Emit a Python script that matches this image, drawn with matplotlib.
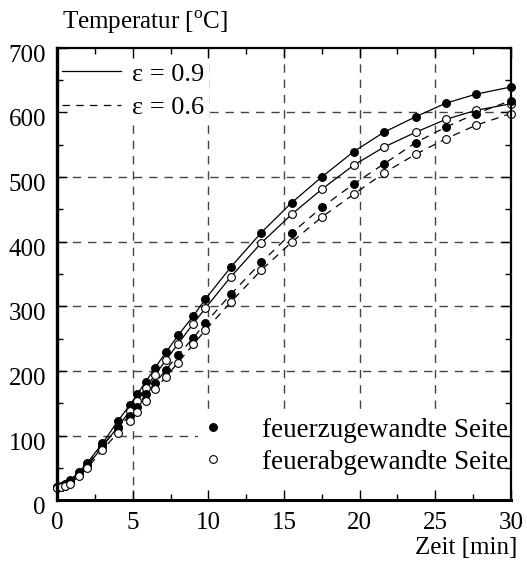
import matplotlib
matplotlib.use("Agg")
import matplotlib.pyplot as plt
import matplotlib.transforms as mtransforms
from matplotlib.lines import Line2D
from matplotlib.patches import Rectangle
import numpy as np

plt.rcParams['font.family'] = ['Liberation Serif', 'DejaVu Serif']
plt.rcParams['mathtext.fontset'] = 'custom'
plt.rcParams['mathtext.rm'] = 'Liberation Serif'

# Zeitpunkte der Messwerte [min]
zeit = [0, 0.26, 0.53, 0.86, 1.45, 2.0, 3.0, 4.0, 4.8, 5.3, 5.85, 6.48, 7.2,
        8.0, 9.0, 9.8, 11.5, 13.5, 15.5, 17.5, 19.6, 21.6, 23.7, 25.7, 27.7, 30.0]

# epsilon = 0.9
fz_09 = [21, 22, 25, 31, 44, 58, 88, 122, 147, 164, 183, 205, 229,
         255, 285, 311, 361, 414, 460, 500, 539, 569, 593, 614, 628, 639]
fa_09 = [20, 21, 23, 28, 40, 53, 83, 113, 138, 154, 174, 194, 217,
         242, 273, 297, 346, 398, 442, 481, 518, 546, 569, 589, 603, 613]

# epsilon = 0.6
fz_06 = [20, 21, 24, 29, 41, 55, 85, 112, 131, 145, 164, 181, 202,
         225, 251, 274, 319, 368, 413, 453, 489, 520, 553, 577, 598, 618]
fa_06 = [19, 20, 22, 26, 37, 50, 78, 104, 123, 137, 154, 172, 191,
         213, 241, 263, 307, 356, 399, 438, 473, 506, 535, 559, 580, 598]

x_major = [0, 5, 10, 15, 20, 25, 30]
y_major = [0, 100, 200, 300, 400, 500, 600, 700]

FS = 18
dash = (0, (6, 5))

fig = plt.figure(figsize=(5.27, 5.63), dpi=100)
ax = fig.add_axes([0.1082, 0.1112, 0.8614, 0.8044])
ax.set_xlim(0, 30)
ax.set_ylim(0, 700)

# Gitterlinien (unter den weissen Legendenflaechen)
for v in x_major[1:-1]:
    ax.axvline(v, color='#444444', lw=1.0, ls=dash, zorder=0.5)
for v in y_major[1:-1]:
    ax.axhline(v, color='#444444', lw=1.0, ls=dash, zorder=0.5)

# weisse Flaechen hinter den Legenden
ax.add_patch(Rectangle((0, 0.84), 0.335, 0.16, transform=ax.transAxes,
                       facecolor='white', edgecolor='none', zorder=1))
ax.add_patch(Rectangle((0.31, 0), 0.69, 0.20, transform=ax.transAxes,
                       facecolor='white', edgecolor='none', zorder=1))

lw = 0.9
ms = 5.6
ax.plot(zeit, fz_09, '-', color='k', lw=lw, marker='o', ms=ms,
        mfc='k', mec='k', mew=0.8, zorder=3, clip_on=False)
ax.plot(zeit, fa_09, '-', color='k', lw=lw, marker='o', ms=ms,
        mfc='white', mec='k', mew=0.8, zorder=3, clip_on=False)
ax.plot(zeit, fz_06, ls=dash, color='k', lw=lw, marker='o', ms=ms,
        mfc='k', mec='k', mew=0.8, zorder=3, clip_on=False)
ax.plot(zeit, fa_06, ls=dash, color='k', lw=lw, marker='o', ms=ms,
        mfc='white', mec='k', mew=0.8, zorder=3, clip_on=False)

# Achsen
ax.set_xticks(x_major)
ax.set_xticks(np.arange(2.5, 30, 5), minor=True)
ax.set_yticks(y_major)
ax.set_yticks(np.arange(50, 700, 100), minor=True)
ax.tick_params(which='both', direction='in', top=True, right=True,
               labelsize=FS, width=1.0)
ax.tick_params(which='major', length=7)
ax.tick_params(which='minor', length=4)
ax.tick_params(axis='x', pad=8)
ax.tick_params(axis='y', pad=8)

for side, w in [('left', 2.4), ('bottom', 2.2), ('top', 1.6), ('right', 1.6)]:
    ax.spines[side].set_linewidth(w)
    ax.spines[side].set_zorder(4)

# y-Beschriftungen etwas nach unten versetzt
offs = mtransforms.ScaledTranslation(0, -4.0 / 72, fig.dpi_scale_trans)
for lab in ax.get_yticklabels():
    lab.set_transform(lab.get_transform() + offs)

ax.text(0.011, 1.055, r'Temperatur [$^{\mathrm{o}}$C]', transform=ax.transAxes,
        ha='left', va='center', fontsize=FS)
ax.text(1.013, -0.105, 'Zeit [min]', transform=ax.transAxes,
        ha='right', va='center', fontsize=FS)

# Legende Emissivitaet
h1 = [Line2D([], [], color='k', lw=lw), Line2D([], [], color='k', lw=lw, ls=dash)]
leg1 = ax.legend(h1, ['ε = 0.9', 'ε = 0.6'], loc='center left',
                 bbox_to_anchor=(0.011, 0.905), frameon=False, fontsize=19,
                 handlelength=2.23, handletextpad=0.42, labelspacing=0.37,
                 borderpad=0, borderaxespad=0)
leg1.set_zorder(5)
ax.add_artist(leg1)

# Legende Messstellen
h2 = [Line2D([], [], ls='none', marker='o', ms=ms, mfc='k', mec='k', mew=0.8),
      Line2D([], [], ls='none', marker='o', ms=ms, mfc='white', mec='k', mew=0.8)]
leg2 = ax.legend(h2, ['feuerzugewandte Seite', 'feuerabgewandte Seite'],
                 loc='center left', bbox_to_anchor=(0.314, 0.120), frameon=False,
                 fontsize=19.5, handlelength=1.0, handletextpad=1.31,
                 labelspacing=0.26, borderpad=0, borderaxespad=0)
leg2.set_zorder(5)

fig.savefig('out.png', dpi=100)
